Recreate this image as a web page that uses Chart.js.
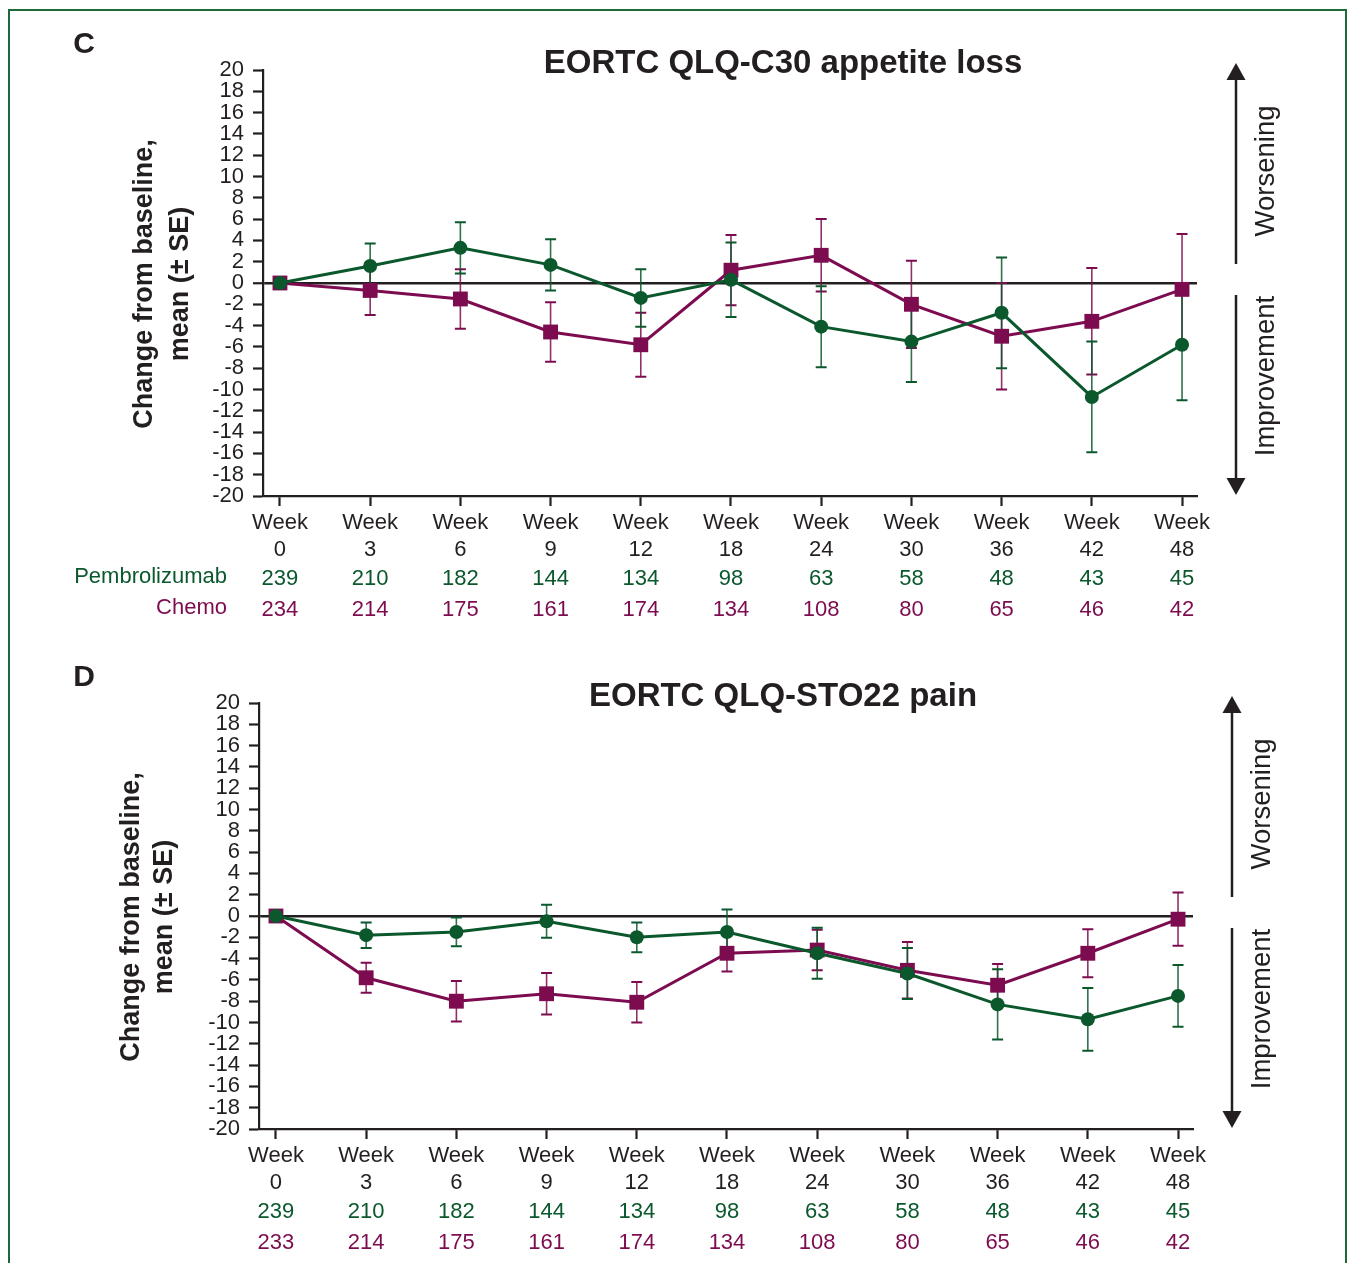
<!DOCTYPE html>
<html><head><meta charset="utf-8">
<script src="https://cdn.jsdelivr.net/npm/chart.js@4.4.1/dist/chart.umd.min.js"></script>
<style>
html,body{margin:0;padding:0;background:#fff;}
body{width:1347px;height:1263px;position:relative;overflow:hidden;}
#frame{position:absolute;left:8px;top:9px;width:1339px;height:1320px;border:2px solid #1b6a38;box-sizing:border-box;}
canvas{position:absolute;}
#cC{left:0;top:0;}
#cD{left:-4px;top:633px;}
</style></head><body>
<div id="frame"></div>
<canvas id="cC" width="1347" height="634"></canvas>
<canvas id="cD" width="1347" height="634"></canvas>
<script>
// ---------- data ----------
const weeks = [0, 3, 6, 9, 12, 18, 24, 30, 36, 42, 48];

const appetitePembroMean = [0, 1.6, 3.3, 1.7, -1.4, 0.3, -4.1, -5.5, -2.8, -10.7, -5.8];
const appetitePembroSE   = [0, 2.1, 2.4, 2.4, 2.7, 3.5, 3.8, 3.8, 5.2, 5.2, 5.2];
const appetiteChemoMean  = [0, -0.7, -1.5, -4.6, -5.8, 1.2, 2.6, -2.0, -5.0, -3.6, -0.6];
const appetiteChemoSE    = [0, 2.3, 2.8, 2.8, 3.0, 3.3, 3.4, 4.1, 5.0, 5.0, 5.2];
const appetitePembroN    = [239, 210, 182, 144, 134, 98, 63, 58, 48, 43, 45];
const appetiteChemoN     = [234, 214, 175, 161, 174, 134, 108, 80, 65, 46, 42];

const painPembroMean = [0, -1.8, -1.5, -0.5, -2.0, -1.5, -3.5, -5.4, -8.3, -9.7, -7.5];
const painPembroSE   = [0, 1.2, 1.35, 1.55, 1.4, 2.1, 2.4, 2.4, 3.3, 2.95, 2.9];
const painChemoMean  = [0, -5.8, -8.0, -7.3, -8.1, -3.5, -3.2, -5.1, -6.5, -3.5, -0.3];
const painChemoSE    = [0, 1.4, 1.9, 1.95, 1.9, 1.7, 1.9, 2.65, 2.0, 2.25, 2.5];
const painPembroN    = [239, 210, 182, 144, 134, 98, 63, 58, 48, 43, 45];
const painChemoN     = [233, 214, 175, 161, 174, 134, 108, 80, 65, 46, 42];

const seriesNames = ['Pembrolizumab', 'Chemo'];

// ---------- style ----------
const GREEN = '#0a582c';
const PURPLE = '#7c0c4f';
const INK = '#231f20';
const FONT = "'Liberation Sans', Arial, Helvetica, sans-serif";
Chart.defaults.font.family = FONT;
Chart.defaults.color = INK;

function arrow(ctx, x, y0, y1) {
  const dir = Math.sign(y1 - y0);
  const headL = 17, headW = 9.5;
  ctx.save();
  ctx.strokeStyle = INK; ctx.fillStyle = INK; ctx.lineWidth = 2.5;
  ctx.beginPath(); ctx.moveTo(x, y0); ctx.lineTo(x, y1 - dir * headL); ctx.stroke();
  ctx.beginPath(); ctx.moveTo(x, y1); ctx.lineTo(x - headW, y1 - dir * headL); ctx.lineTo(x + headW, y1 - dir * headL); ctx.closePath(); ctx.fill();
  ctx.restore();
}

function rotText(ctx, text, x, y, font, color) {
  ctx.save();
  ctx.translate(x, y); ctx.rotate(-Math.PI / 2);
  ctx.font = font; ctx.fillStyle = color; ctx.textAlign = 'center'; ctx.textBaseline = 'alphabetic';
  ctx.fillText(text, 0, 0);
  ctx.restore();
}

const decor = {
  id: 'decor',
  beforeDatasetsDraw(chart, args, o) {
    const ctx = chart.ctx, xs = chart.scales.x, ys = chart.scales.y;
    o.err.forEach(e => {
      ctx.save();
      ctx.strokeStyle = e.color;
      e.mean.forEach((m, i) => {
        const s = e.se[i]; if (!s) return;
        const x = xs.getPixelForValue(i);
        const y1 = ys.getPixelForValue(m + s), y2 = ys.getPixelForValue(m - s);
        ctx.globalAlpha = 0.85; ctx.lineWidth = 1.6;
        ctx.beginPath(); ctx.moveTo(x, y1); ctx.lineTo(x, y2); ctx.stroke();
        ctx.globalAlpha = 1; ctx.lineWidth = 2;
        ctx.beginPath();
        ctx.moveTo(x - 5.5, y1); ctx.lineTo(x + 5.5, y1);
        ctx.moveTo(x - 5.5, y2); ctx.lineTo(x + 5.5, y2);
        ctx.stroke();
      });
      ctx.restore();
    });
  },
  afterDraw(chart, args, o) {
    const ctx = chart.ctx, xs = chart.scales.x;
    ctx.save();
    // panel letter
    ctx.fillStyle = INK; ctx.textAlign = 'center'; ctx.textBaseline = 'alphabetic';
    ctx.font = 'bold 30px ' + FONT;
    ctx.fillText(o.letter, o.letterX, 53);
    // title
    ctx.font = 'bold 33px ' + FONT;
    ctx.fillText(o.title, o.titleX, 73);
    // y axis title
    rotText(ctx, 'Change from baseline,', o.ytX1, 284, 'bold 27px ' + FONT, INK);
    rotText(ctx, 'mean (\u00b1 SE)', o.ytX2, 284, 'bold 27px ' + FONT, INK);
    // arrows
    arrow(ctx, 1236, 264, 63);
    arrow(ctx, 1236, 295, 495);
    rotText(ctx, 'Worsening', 1274, 171, '27.5px ' + FONT, INK);
    rotText(ctx, 'Improvement', 1274, 376, '27.5px ' + FONT, INK);
    // numbers at risk
    ctx.font = '22px ' + FONT; ctx.textBaseline = 'alphabetic';
    if (o.showRowLabels) {
      ctx.textAlign = 'right';
      ctx.fillStyle = GREEN; ctx.fillText(seriesNames[0], 227, 583);
      ctx.fillStyle = PURPLE; ctx.fillText(seriesNames[1], 227, 614);
    }
    ctx.textAlign = 'center';
    o.nA.forEach((n, i) => { ctx.fillStyle = GREEN; ctx.fillText(String(n), xs.getPixelForValue(i), 585); });
    o.nB.forEach((n, i) => { ctx.fillStyle = PURPLE; ctx.fillText(String(n), xs.getPixelForValue(i), 616); });
    ctx.restore();
  }
};

function makeChart(id, cfg) {
  const ptsA = cfg.meanA.map((v, i) => ({ x: i, y: v }));
  const ptsB = cfg.meanB.map((v, i) => ({ x: i, y: v }));
  return new Chart(document.getElementById(id), {
    type: 'line',
    data: {
      datasets: [
        { label: seriesNames[0], data: ptsA, borderColor: GREEN, backgroundColor: GREEN, borderWidth: 3,
          pointStyle: 'circle', pointRadius: 7, pointBackgroundColor: GREEN, pointBorderColor: GREEN, pointBorderWidth: 0, tension: 0 },
        { label: seriesNames[1], data: ptsB, borderColor: PURPLE, backgroundColor: PURPLE, borderWidth: 3,
          pointStyle: 'rect', pointRadius: 10.5, pointBackgroundColor: PURPLE, pointBorderColor: PURPLE, pointBorderWidth: 0, tension: 0 }
      ]
    },
    options: {
      responsive: false, animation: false, devicePixelRatio: 1, events: [],
      layout: { padding: { left: 0, top: 70, right: 150, bottom: 0 } },
      plugins: {
        legend: { display: false }, tooltip: { enabled: false }, title: { display: false },
        decor: {
          letter: cfg.letter, letterX: cfg.letterX, title: cfg.title, titleX: cfg.titleX,
          ytX1: cfg.ytX1, ytX2: cfg.ytX2, showRowLabels: cfg.showRowLabels,
          nA: cfg.nA, nB: cfg.nB,
          err: [ { color: PURPLE, mean: cfg.meanB, se: cfg.seB }, { color: GREEN, mean: cfg.meanA, se: cfg.seA } ]
        }
      },
      scales: {
        x: {
          type: 'linear', min: -0.188, max: 10.166,
          afterBuildTicks: (axis) => { axis.ticks = weeks.map((w, i) => ({ value: i })); },
          afterFit: (s) => { s.height = 138; },
          border: { display: true, color: INK, width: 2.2 },
          grid: { display: true, drawOnChartArea: false, drawTicks: true, tickLength: 10, tickColor: INK, tickWidth: 2.2 },
          ticks: {
            autoSkip: false, maxRotation: 0, padding: 4, color: INK,
            font: { size: 22, lineHeight: 1.214 },
            callback: (v) => ['Week', String(weeks[v])]
          }
        },
        y: {
          min: -20, max: 20,
          afterFit: (s) => { s.width = 263; },
          border: { display: true, color: INK, width: 2.2 },
          grid: {
            display: true, drawOnChartArea: true, drawTicks: true, tickLength: 10, tickColor: INK, tickWidth: 2.2,
            color: (c) => (c.tick && c.tick.value === 0) ? INK : 'rgba(0,0,0,0)',
            lineWidth: (c) => (c.tick && c.tick.value === 0) ? 2.5 : 1
          },
          ticks: { stepSize: 2, autoSkip: false, padding: 9, color: INK, font: { size: 22, lineHeight: 1 } }
        }
      }
    },
    plugins: [decor]
  });
}

makeChart('cC', {
  letter: 'C', letterX: 84, title: 'EORTC QLQ-C30 appetite loss', titleX: 783, ytX1: 152, ytX2: 188,
  showRowLabels: true,
  meanA: appetitePembroMean, seA: appetitePembroSE, meanB: appetiteChemoMean, seB: appetiteChemoSE,
  nA: appetitePembroN, nB: appetiteChemoN
});
makeChart('cD', {
  letter: 'D', letterX: 88, title: 'EORTC QLQ-STO22 pain', titleX: 787, ytX1: 143, ytX2: 176,
  showRowLabels: false,
  meanA: painPembroMean, seA: painPembroSE, meanB: painChemoMean, seB: painChemoSE,
  nA: painPembroN, nB: painChemoN
});
</script>
</body></html>
